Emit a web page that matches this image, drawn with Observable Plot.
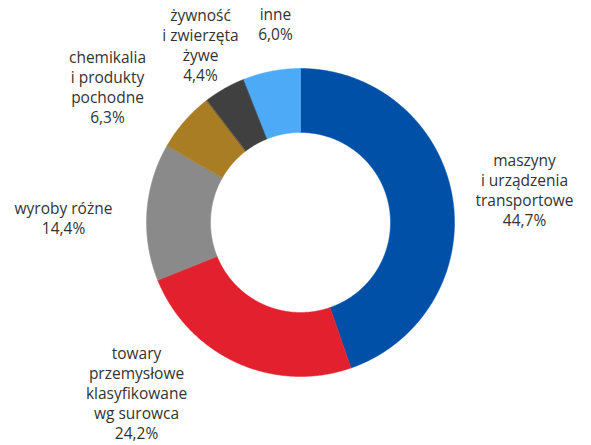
<!DOCTYPE html>
<html>
<head>
<meta charset="utf-8">
<script src="https://cdn.jsdelivr.net/npm/d3@7"></script>
<script src="https://cdn.jsdelivr.net/npm/@observablehq/plot@0.6"></script>
<style>
  html, body { margin: 0; padding: 0; background: #fff; }
</style>
</head>
<body>
<div id="chart"></div>
<script>
// ---- data ----
const categories = [
  "maszyny\ni urządzenia\ntransportowe",
  "towary\nprzemysłowe\nklasyfikowane\nwg surowca",
  "wyroby różne",
  "chemikalia\ni produkty\npochodne",
  "żywność\ni zwierzęta\nżywe",
  "inne"
];
const shares = [44.7, 24.2, 14.4, 6.3, 4.4, 6.0];
const colors = ["#0050a8", "#e3202e", "#8a8a8a", "#a87d24", "#404040", "#4daaf7"];

// ---- layout (pixel offsets of label block centres from donut centre) ----
const labelDX = [224, -164, -237, -193, -100, -25];
const labelDY = [-33, 170, -5, -136, -178, -199];

const W = 591, H = 445;
const cx = 300, cy = 222;
const rOuter = 154, rInner = 90;

const fmt = v => v.toFixed(1).replace(".", ",") + "%";

// build slice polygons from d3.pie angles
const pie = d3.pie().sort(null).value(d => d.value);
const arcs = pie(categories.map((c, i) => ({cat: c, value: shares[i]})));
const poly = [];
arcs.forEach((a, i) => {
  const n = Math.max(4, Math.ceil((a.endAngle - a.startAngle) / 0.005));
  const pts = [];
  for (let k = 0; k <= n; k++) {
    const t = a.startAngle + (a.endAngle - a.startAngle) * k / n;
    pts.push({x: rOuter * Math.sin(t), y: -rOuter * Math.cos(t)});
  }
  for (let k = n; k >= 0; k--) {
    const t = a.startAngle + (a.endAngle - a.startAngle) * k / n;
    pts.push({x: rInner * Math.sin(t), y: -rInner * Math.cos(t)});
  }
  pts.forEach((p, j) => poly.push({...p, cat: a.data.cat, order: j}));
});

const labels = categories.map((c, i) => ({
  cat: c,
  text: c + "\n" + fmt(shares[i]),
  x: labelDX[i],
  y: labelDY[i]
}));

const chart = Plot.plot({
  width: W,
  height: H,
  margin: 0,
  x: {domain: [-cx, W - cx], range: [0, W], axis: null},
  y: {domain: [-cy, H - cy], range: [0, H], axis: null},
  color: {domain: categories, range: colors, type: "ordinal"},
  style: {fontFamily: "Open Sans, sans-serif", background: "#fff"},
  marks: [
    Plot.line(poly, {x: "x", y: "y", z: "cat", fill: "cat", stroke: "cat", strokeWidth: 0.5, curve: "linear-closed"}),
    Plot.text(labels, {
      x: "x", y: "y", text: "text",
      fontSize: 15.5, lineHeight: 1.3, fill: "#333", textAnchor: "middle"
    })
  ]
});
document.getElementById("chart").appendChild(chart);
</script>
</body>
</html>
